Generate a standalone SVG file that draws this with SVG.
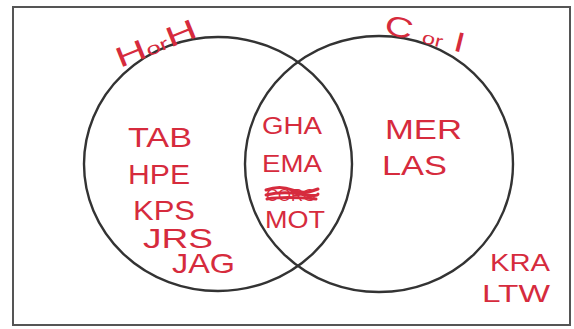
<svg xmlns="http://www.w3.org/2000/svg" width="574" height="329" viewBox="0 0 574 329">
<style>
.frame{fill:none;stroke:#555;stroke-width:2}
.set{fill:none;stroke:#333;stroke-width:2.4}
.hw{font-family:"Liberation Sans","DejaVu Sans",sans-serif;fill:#d62b3d;font-weight:normal}
.big{font-size:28px}
.mid{font-size:23px}
.scr{fill:none;stroke:#d62b3d;stroke-width:3;stroke-linecap:round}
</style>
<rect width="574" height="329" fill="#fff"/>
<rect class="frame" x="13" y="7" width="557" height="318"/>
<g id="set-h">
<ellipse class="set" cx="218" cy="164" rx="134" ry="127"/>
<text class="hw big" x="120" y="68" transform="rotate(-22 120 68)" textLength="85" lengthAdjust="spacingAndGlyphs">H<tspan font-size="17">or</tspan>H</text>
</g>
<g id="set-ci">
<ellipse class="set" cx="379" cy="164" rx="134" ry="128"/>
<text class="hw big" x="383" y="33" transform="rotate(14 383 33)" textLength="82" lengthAdjust="spacingAndGlyphs">C <tspan font-size="17">or</tspan> I</text>
</g>
<g id="only-h">
<text class="hw big" x="128" y="147" textLength="64" lengthAdjust="spacingAndGlyphs">TAB</text>
<text class="hw big" x="128" y="184" textLength="62" lengthAdjust="spacingAndGlyphs">HPE</text>
<text class="hw big" x="133" y="220" textLength="62" lengthAdjust="spacingAndGlyphs">KPS</text>
<text class="hw big" x="143" y="248" textLength="70" lengthAdjust="spacingAndGlyphs">JRS</text>
<text class="hw big" x="172" y="273" textLength="63" lengthAdjust="spacingAndGlyphs">JAG</text>
</g>
<g id="both">
<text class="hw mid" x="262" y="134" textLength="60" lengthAdjust="spacingAndGlyphs">GHA</text>
<text class="hw mid" x="262" y="172" textLength="60" lengthAdjust="spacingAndGlyphs">EMA</text>
<text class="hw" font-size="17" x="266" y="201" textLength="50" lengthAdjust="spacingAndGlyphs">CORG</text>
<path class="scr" d="M266 190 Q280 185 292 190 T318 189 M266 195 Q282 191 300 194 T318 194 M267 199 Q285 196 316 199"/>
<text class="hw mid" x="265" y="228" textLength="60" lengthAdjust="spacingAndGlyphs">MOT</text>
</g>
<g id="only-ci">
<text class="hw big" x="385" y="139" textLength="77" lengthAdjust="spacingAndGlyphs">MER</text>
<text class="hw big" x="382" y="175" textLength="65" lengthAdjust="spacingAndGlyphs">LAS</text>
</g>
<g id="neither">
<text class="hw mid" x="490" y="271" textLength="60" lengthAdjust="spacingAndGlyphs">KRA</text>
<text class="hw mid" x="482" y="302" textLength="68" lengthAdjust="spacingAndGlyphs">LTW</text>
</g>
<g id="connectors"/>
</svg>
